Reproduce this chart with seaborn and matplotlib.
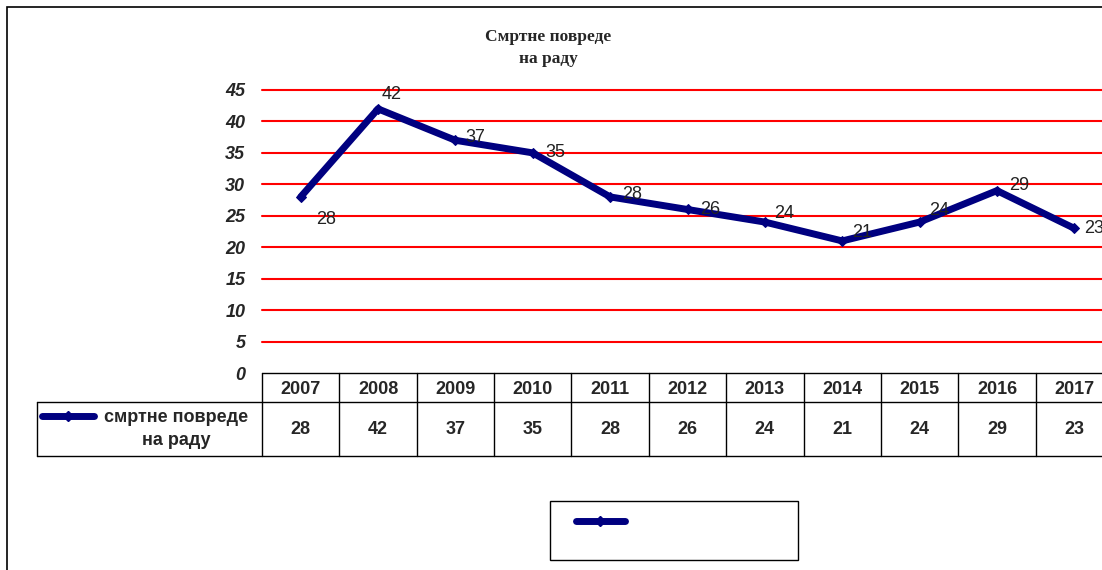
import pandas as pd
import matplotlib.pyplot as plt
import seaborn as sns
from matplotlib.lines import Line2D
from matplotlib.patches import Rectangle

# Data
years = ['2007', '2008', '2009', '2010', '2011', '2012', '2013', '2014', '2015', '2016', '2017']
injuries = [28, 42, 37, 35, 28, 26, 24, 21, 24, 29, 23]
series_name = 'смртне повреде\nна раду'
title = 'Смртне повреде\nна раду'

df = pd.DataFrame({'pos': range(len(years)), 'year': years, 'value': injuries})

sns.set_style('white')
plt.rcParams['font.family'] = ['Liberation Sans', 'DejaVu Sans']

W, H = 1102, 570
fig = plt.figure(figsize=(W / 100, H / 100), dpi=100)

# plot area (runs past the right edge like the original)
left_px, right_px, top_px, bot_px = 262, 1113, 90, 373
ax = fig.add_axes([left_px / W, 1 - bot_px / H, (right_px - left_px) / W, (bot_px - top_px) / H])

navy = '#000080'
sns.lineplot(data=df, x='pos', y='value', ax=ax, color=navy, linewidth=5,
             marker='D', markersize=5, markeredgecolor=navy, zorder=3)

ax.set_xlim(-0.5, len(years) - 0.5)
ax.set_ylim(0, 45)
ax.set_yticks(range(0, 50, 5))
ax.set_yticklabels([str(v) for v in range(0, 50, 5)], fontsize=13, fontweight='bold', style='italic')
ax.tick_params(axis='y', length=0, pad=12)
ax.set_xticks([])
ax.set_xlabel('')
ax.set_ylabel('')
for s in ax.spines.values():
    s.set_visible(False)
for v in range(5, 50, 5):
    ax.axhline(v, color='red', linewidth=1.5, zorder=1, clip_on=False)

# data labels
offsets = [(18, -16), (10, 10), (14, 2), (16, 0), (16, 2), (16, 0), (14, 6), (14, 6), (14, 8), (16, 4), (14, 0)]
for i, v in enumerate(injuries):
    ax.annotate(str(v), (i, v), xytext=offsets[i], textcoords='offset points',
                ha='center', va='center', fontsize=13, color='#222222', zorder=4)

# title
fig.text(548 / W, 1 - 48 / H, title, ha='center', va='center', fontsize=12.5,
         fontweight='bold', family='Liberation Serif', linespacing=1.45)

# data table below the plot
tr = ax.transAxes
hpx = bot_px - top_px
wpx = right_px - left_px
y_mid = -(402 - bot_px) / hpx
y_bot = -(456 - bot_px) / hpx
x_leg = (37 - left_px) / wpx
lkw = dict(color='black', linewidth=1, transform=tr, clip_on=False)
ax.add_line(Line2D([0, 1.05], [0, 0], **lkw))
ax.add_line(Line2D([x_leg, 1.05], [y_mid, y_mid], **lkw))
ax.add_line(Line2D([x_leg, 1.05], [y_bot, y_bot], **lkw))
ax.add_line(Line2D([x_leg, x_leg], [y_mid, y_bot], **lkw))
n = len(years)
for k in range(n + 1):
    xa = k / n
    ax.add_line(Line2D([xa, xa], [0, y_bot], **lkw))
for i, (yr, v) in enumerate(zip(years, injuries)):
    xa = (i + 0.5) / n
    ax.text(xa, y_mid / 2 - 0.006, yr, transform=tr, ha='center', va='center', fontsize=13, fontweight='bold')
    ax.text(xa, (y_mid + y_bot) / 2, str(v), transform=tr, ha='center', va='center', fontsize=13, fontweight='bold')

# legend key inside the table's first cell
key_y = 1 - 416 / H
fig.add_artist(Line2D([42 / W, 94 / W], [key_y, key_y], color=navy, linewidth=5,
                      solid_capstyle='round', transform=fig.transFigure))
fig.add_artist(Line2D([68 / W], [key_y], color=navy, marker='D', markersize=5,
                      transform=fig.transFigure))
fig.text(176 / W, 1 - 429 / H, series_name, ha='center', va='center', fontsize=13,
         fontweight='bold', linespacing=1.45)

# bottom legend box (no label text)
fig.add_artist(Rectangle((550 / W, 1 - 560 / H), 248 / W, 59 / H, fill=False,
                         edgecolor='black', linewidth=1, transform=fig.transFigure))
leg_y = 1 - 521 / H
fig.add_artist(Line2D([576 / W, 625 / W], [leg_y, leg_y], color=navy, linewidth=5,
                      solid_capstyle='round', transform=fig.transFigure))
fig.add_artist(Line2D([600 / W], [leg_y], color=navy, marker='D', markersize=5,
                      transform=fig.transFigure))

# outer frame, cut at right and bottom
fig.add_artist(Rectangle((7 / W, -0.1), 1.2, 1.1 - 7 / H, fill=False,
                         edgecolor='black', linewidth=1.2, transform=fig.transFigure))

fig.savefig('out.png', dpi=100)
